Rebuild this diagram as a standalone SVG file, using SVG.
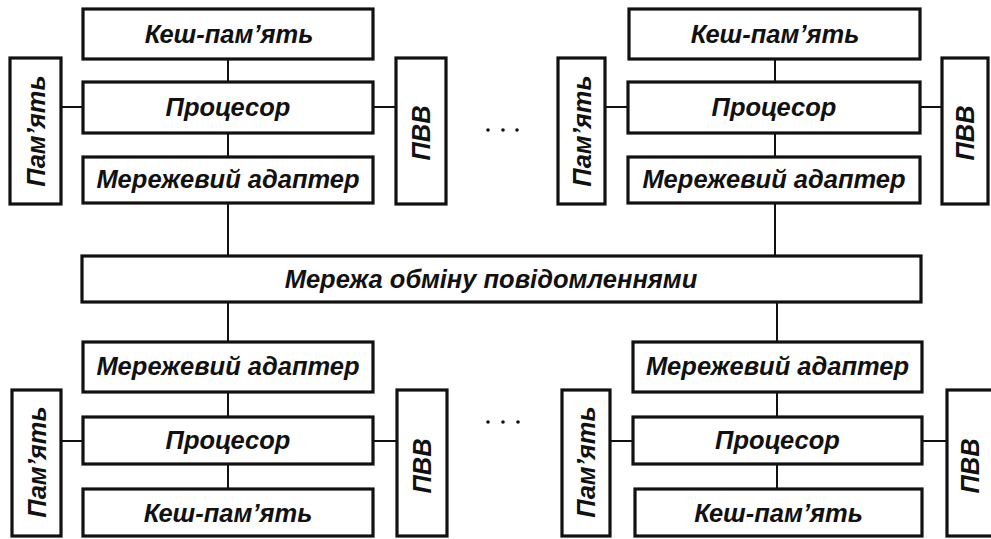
<svg xmlns="http://www.w3.org/2000/svg" width="991" height="539" viewBox="0 0 991 539">
  <style>
    .box { fill: #ffffff; stroke: #111111; stroke-width: 3.2; }
    .lbl { font-family: "Liberation Sans", Arial, sans-serif; font-weight: bold; font-style: italic; font-size: 25.5px; fill: #111111; text-anchor: middle; }
    .wire { stroke: #111111; stroke-width: 2; fill: none; }
    .dot { fill: #111111; }
  </style>
  <rect width="991" height="539" fill="#ffffff"/>

  <!-- connectors -->
  <g id="connectors">
    <!-- upper-left node -->
    <path class="wire" d="M228 59 V82 M228 133 V157 M228 203 V256 M61 107 H83 M373 107 H395"/>
    <!-- upper-right node -->
    <path class="wire" d="M775 59 V82 M775 133 V157 M775 203 V256 M605 107 H628 M920 107 H942"/>
    <!-- lower-left node -->
    <path class="wire" d="M228 302 V342 M228 392 V417 M228 464 V489 M61 441 H83 M373 441 H397"/>
    <!-- lower-right node -->
    <path class="wire" d="M777 302 V342 M777 392 V417 M777 464 V489 M610 441 H633 M922 441 H947"/>
  </g>

  <!-- message-passing network -->
  <g id="network">
    <rect class="box" x="82" y="256" width="839" height="46"/>
    <text class="lbl" x="491" y="288">Мережа обміну повідомленнями</text>
  </g>

  <!-- upper-left node -->
  <g id="ul-cache">
    <rect class="box" x="83" y="9" width="290" height="50"/>
    <text class="lbl" x="229" y="43">Кеш-пам’ять</text>
  </g>
  <g id="ul-cpu">
    <rect class="box" x="83" y="82" width="290" height="51"/>
    <text class="lbl" x="228" y="116">Процесор</text>
  </g>
  <g id="ul-adapter">
    <rect class="box" x="83" y="157" width="290" height="46"/>
    <text class="lbl" x="228" y="188">Мережевий адаптер</text>
  </g>
  <g id="ul-mem">
    <rect class="box" x="10" y="58" width="51" height="146"/>
    <text class="lbl" transform="translate(35.5 131) rotate(-90)" x="0" y="9">Пам’ять</text>
  </g>
  <g id="ul-io">
    <rect class="box" x="396" y="58" width="50" height="146"/>
    <text class="lbl" transform="translate(421 133) rotate(-90)" x="0" y="9">ПВВ</text>
  </g>

  <!-- upper-right node -->
  <g id="ur-cache">
    <rect class="box" x="629" y="9" width="291" height="50"/>
    <text class="lbl" x="775" y="43">Кеш-пам’ять</text>
  </g>
  <g id="ur-cpu">
    <rect class="box" x="628" y="82" width="292" height="51"/>
    <text class="lbl" x="774" y="116">Процесор</text>
  </g>
  <g id="ur-adapter">
    <rect class="box" x="628" y="157" width="292" height="46"/>
    <text class="lbl" x="774" y="188">Мережевий адаптер</text>
  </g>
  <g id="ur-mem">
    <rect class="box" x="558" y="58" width="47" height="146"/>
    <text class="lbl" transform="translate(581.5 131) rotate(-90)" x="0" y="9">Пам’ять</text>
  </g>
  <g id="ur-io">
    <rect class="box" x="942" y="58" width="46" height="146"/>
    <text class="lbl" transform="translate(965 133) rotate(-90)" x="0" y="9">ПВВ</text>
  </g>

  <!-- lower-left node -->
  <g id="ll-adapter">
    <rect class="box" x="83" y="342" width="290" height="50"/>
    <text class="lbl" x="228" y="375">Мережевий адаптер</text>
  </g>
  <g id="ll-cpu">
    <rect class="box" x="83" y="417" width="290" height="47"/>
    <text class="lbl" x="228" y="449">Процесор</text>
  </g>
  <g id="ll-cache">
    <rect class="box" x="83" y="489" width="290" height="47"/>
    <text class="lbl" x="228" y="522">Кеш-пам’ять</text>
  </g>
  <g id="ll-mem">
    <rect class="box" x="12" y="390" width="49" height="146"/>
    <text class="lbl" transform="translate(36.5 462) rotate(-90)" x="0" y="9">Пам’ять</text>
  </g>
  <g id="ll-io">
    <rect class="box" x="397" y="390" width="50" height="146"/>
    <text class="lbl" transform="translate(422 466) rotate(-90)" x="0" y="9">ПВВ</text>
  </g>

  <!-- lower-right node -->
  <g id="lr-adapter">
    <rect class="box" x="633" y="342" width="289" height="50"/>
    <text class="lbl" x="777.5" y="375">Мережевий адаптер</text>
  </g>
  <g id="lr-cpu">
    <rect class="box" x="633" y="417" width="289" height="47"/>
    <text class="lbl" x="777.5" y="449">Процесор</text>
  </g>
  <g id="lr-cache">
    <rect class="box" x="635" y="489" width="287" height="47"/>
    <text class="lbl" x="778.5" y="522">Кеш-пам’ять</text>
  </g>
  <g id="lr-mem">
    <rect class="box" x="562" y="390" width="48" height="146"/>
    <text class="lbl" transform="translate(586 462) rotate(-90)" x="0" y="9">Пам’ять</text>
  </g>
  <g id="lr-io">
    <rect class="box" x="947" y="390" width="50" height="146"/>
    <text class="lbl" transform="translate(970 466) rotate(-90)" x="0" y="9">ПВВ</text>
  </g>

  <!-- ellipsis marks between nodes -->
  <g id="ellipsis-top">
    <circle class="dot" cx="488" cy="130" r="1.8"/>
    <circle class="dot" cx="503" cy="130" r="1.8"/>
    <circle class="dot" cx="517" cy="130" r="1.8"/>
  </g>
  <g id="ellipsis-bottom">
    <circle class="dot" cx="488" cy="422" r="1.8"/>
    <circle class="dot" cx="503" cy="422" r="1.8"/>
    <circle class="dot" cx="518" cy="422" r="1.8"/>
  </g>
</svg>
